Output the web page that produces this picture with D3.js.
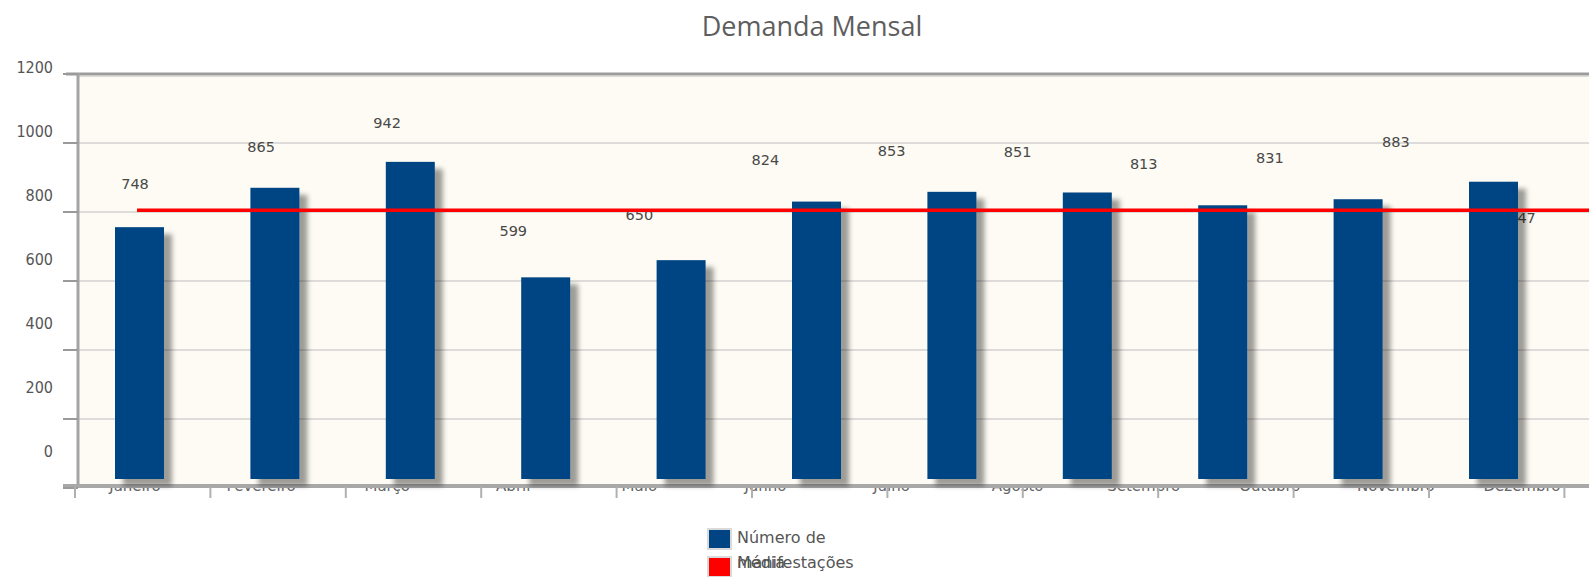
<!DOCTYPE html>
<html>
<head>
<meta charset="utf-8">
<script src="https://cdn.jsdelivr.net/npm/d3@7"></script>
<style>
  body { margin: 0; background: #fff; }
  svg { display: block; }
</style>
</head>
<body>
<svg id="chart" width="1589" height="577"></svg>
<script>
// Data
const months = ['Janeiro', 'Fevereiro', 'Março', 'Abril', 'Maio', 'Junho',
    'Julho', 'Agosto', 'Setembro', 'Outubro', 'Novembro', 'Dezembro'];
const manifestacoes = [748, 865, 942, 599, 650, 824, 853, 851, 813, 831, 883, 847];
const media = 805;
const yTicks = [0, 200, 400, 600, 800, 1000, 1200];
const legendItems = [
    { label: ['Número de', 'manifestações'], color: '#004483' },
    { label: ['Média'], color: '#ff0000' }
];

const svg = d3.select('#chart');
const W = 1589;

// Scales (the source chart is wider than the window, so the last slot runs off)
const xSlot = d3.scaleBand().domain(months).range([75, 75 + 12 * 135.4]).padding(0);
const xLabel = d3.scalePoint().domain(months).range([135, 1522]);
const yAxis = d3.scaleLinear().domain([0, 1200]).range([488, 74]);
const yBar = d3.scaleLinear().domain([0, 1200]).range([479, 75]);
const yValueLabel = d3.scaleLinear().domain([0, 1200]).range([419, 42]);
const yTickLabel = d3.scaleLinear().domain([0, 1200]).range([451, 67]);

const defs = svg.append('defs');
const f = defs.append('filter').attr('id', 'shadow')
    .attr('x', '-20%').attr('y', '-5%').attr('width', '160%').attr('height', '120%');
f.append('feDropShadow').attr('dx', 8).attr('dy', 7).attr('stdDeviation', 2.8)
    .attr('flood-color', '#000').attr('flood-opacity', 0.38);

// Title
svg.append('text')
    .attr('x', 812).attr('y', 36)
    .attr('text-anchor', 'middle')
    .style('font-family', '"Open Sans", sans-serif')
    .style('font-size', '27px')
    .attr('fill', '#5e5e5e')
    .text('Demanda Mensal');

// Category labels sit behind the plot area; only their feet show
svg.append('g').selectAll('text')
    .data(months)
    .enter()
    .append('text')
    .attr('x', d => xLabel(d))
    .attr('y', 490.5)
    .attr('text-anchor', 'middle')
    .style('font-family', '"DejaVu Sans", sans-serif')
    .style('font-size', '15px')
    .attr('fill', '#666')
    .text(d => d);

// Plot background
svg.append('rect')
    .attr('x', 78).attr('y', 75)
    .attr('width', W - 78).attr('height', 409)
    .attr('fill', '#fdfbf3');

// Grid lines
svg.append('g').selectAll('line')
    .data(yTicks.filter(v => v > 0 && v < 1200))
    .enter()
    .append('line')
    .attr('x1', 79).attr('x2', W)
    .attr('y1', d => yAxis(d)).attr('y2', d => yAxis(d))
    .attr('stroke', '#d2d2d2').attr('stroke-width', 1.5);

// Frame
svg.append('line').attr('x1', 66).attr('x2', W).attr('y1', 74).attr('y2', 74)
    .attr('stroke', '#9c9c9c').attr('stroke-width', 3);
svg.append('line').attr('x1', 78).attr('x2', W).attr('y1', 76.5).attr('y2', 76.5)
    .attr('stroke', '#dcdcd6').attr('stroke-width', 1);
svg.append('line').attr('x1', 78).attr('x2', 78).attr('y1', 73).attr('y2', 488)
    .attr('stroke', '#a4a4a4').attr('stroke-width', 3);
svg.append('line').attr('x1', 63).attr('x2', W).attr('y1', 486).attr('y2', 486)
    .attr('stroke', '#a8a8a8').attr('stroke-width', 4);

// Y ticks and labels
svg.append('g').selectAll('line')
    .data(yTicks)
    .enter()
    .append('line')
    .attr('x1', 63).attr('x2', 78)
    .attr('y1', d => yAxis(d)).attr('y2', d => yAxis(d))
    .attr('stroke', '#9a9a9a').attr('stroke-width', 2);

svg.append('g').selectAll('text')
    .data(yTicks)
    .enter()
    .append('text')
    .attr('x', 53)
    .attr('y', d => yTickLabel(d))
    .attr('dy', '0.36em')
    .attr('text-anchor', 'end')
    .style('font-family', '"DejaVu Sans Condensed", "Liberation Sans", sans-serif')
    .style('font-stretch', 'condensed')
    .style('font-size', '16px')
    .attr('fill', '#555')
    .text(d => d);

// X ticks at slot edges
const edges = months.map(m => xSlot(m)).concat([xSlot(months[11]) + xSlot.bandwidth()]);
svg.append('g').selectAll('line')
    .data(edges)
    .enter()
    .append('line')
    .attr('x1', d => d).attr('x2', d => d)
    .attr('y1', 487).attr('y2', 498)
    .attr('stroke', '#b0b0b0').attr('stroke-width', 2);

// Value labels (Dezembro's bar is off the canvas; its label hangs under the média line)
svg.append('g').selectAll('text')
    .data(months)
    .enter()
    .append('text')
    .attr('x', d => xLabel(d))
    .attr('y', (d, i) => i === 11 ? yAxis(media) + 8 : yValueLabel(manifestacoes[i]))
    .attr('dy', '0.36em')
    .attr('text-anchor', 'middle')
    .style('font-family', '"DejaVu Sans", sans-serif')
    .style('font-size', '14.5px')
    .attr('fill', '#484848')
    .text((d, i) => manifestacoes[i]);

// Bars
svg.append('g').selectAll('rect')
    .data(months)
    .enter()
    .append('rect')
    .attr('x', d => xSlot(d) + 40)
    .attr('y', (d, i) => yBar(manifestacoes[i]))
    .attr('width', 49)
    .attr('height', (d, i) => yBar(0) - yBar(manifestacoes[i]))
    .attr('fill', legendItems[0].color)
    .attr('filter', 'url(#shadow)');

// Média line
svg.append('line')
    .attr('x1', xLabel(months[0]) + 2).attr('x2', W)
    .attr('y1', yAxis(media)).attr('y2', yAxis(media))
    .attr('stroke', legendItems[1].color).attr('stroke-width', 3.5);

// Legend (both entries are drawn on top of each other, as in the source)
const legend = svg.append('g');
legendItems.forEach((item, i) => {
    const y0 = 529 + i * 28;
    legend.append('rect')
        .attr('x', 708).attr('y', y0)
        .attr('width', 23).attr('height', 20)
        .attr('fill', item.color)
        .attr('stroke', '#dadada').attr('stroke-width', 2);
    item.label.forEach((line, j) => {
        legend.append('text')
            .attr('x', 737)
            .attr('y', 543 + j * 25 + (i ? 25 : 0))
            .style('font-family', '"DejaVu Sans", sans-serif')
            .style('font-size', '16px')
            .attr('fill', '#555')
            .text(line);
    });
});
</script>
</body>
</html>
